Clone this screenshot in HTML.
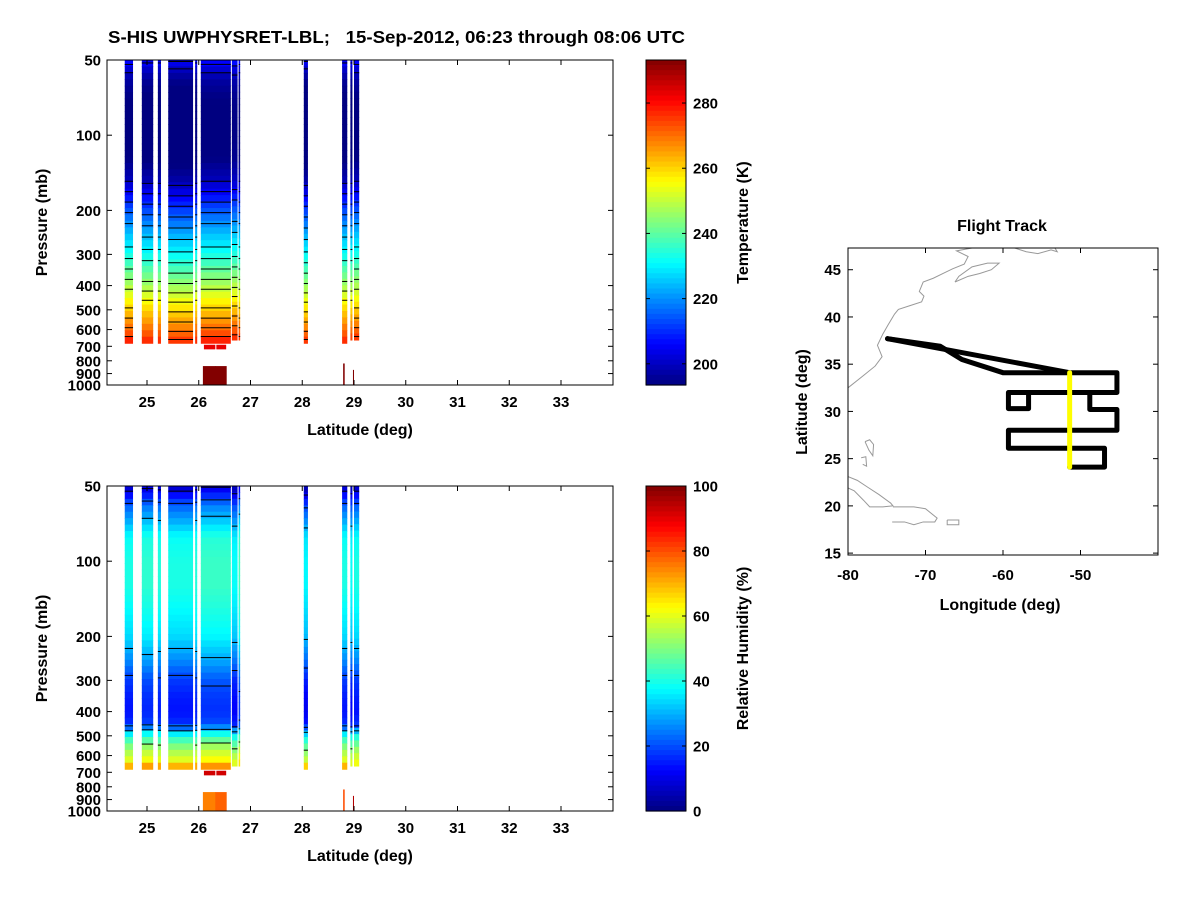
<!DOCTYPE html>
<html><head><meta charset="utf-8"><style>
body{margin:0;background:#fff;}
svg{display:block;font-family:"Liberation Sans",Arial,sans-serif;font-weight:bold;}
#ttl{white-space:pre;}
</style></head><body>
<svg id="fig" width="1200" height="900" viewBox="0 0 1200 900">
<text id="ttl" x="108" y="43" font-size="17.5" textLength="577" lengthAdjust="spacingAndGlyphs" xml:space="preserve">S-HIS UWPHYSRET-LBL;   15-Sep-2012, 06:23 through 08:06 UTC</text>
</svg>
<script>
// ---------- data ----------
const segStart = [24.57,24.90,25.21,25.41,25.93,26.04,26.64,26.77,28.03,28.77,28.93,29.00];
const segEnd   = [24.73,25.12,25.27,25.89,25.97,26.62,26.75,26.80,28.11,28.87,28.97,29.10];
const segBottomP = [680,680,680,680,680,680,660,660,680,680,660,660];
const segOffsetT = [1,0,0,-1,0,1,2,1,-1,0,0,1];
const segOffsetRH = [0,2,1,0,1,3,-2,4,-3,0,-2,0];
const presLevels = [50,55,60,70,80,100,125,150,200,250,300,350,400,450,500,550,600,650,680];
const tempProfile = [207,200,196,193,192,192,193,198,213,224,232,240,247,254,260,265,270,275,279];
const rhProfile   = [6,14,22,30,38,40,40,38,34,26,18,15,14,17,40,50,57,62,85];
const tempContours = [200,205,210,215,220,225,230,235,240,245,250,255,260,265,270,275];
const rhContours = [10,20,30,50];
const tTicks = [200,220,240,260,280];
const rhTicks = [0,20,40,60,80,100];
const latTicks = [25,26,27,28,29,30,31,32,33];
const presTicks = [50,100,200,300,400,500,600,700,800,900,1000];
// surface blobs
const blobLatStart = [26.10,26.34,26.08,26.32,28.79,28.98];
const blobLatEnd   = [26.32,26.53,26.33,26.54,28.82,29.00];
const blobPTop     = [690,690,840,840,820,870];
const blobPBot     = [720,720,1000,1000,1000,1000];
const blobT        = [283,283,293,293,293,293];
const blobRH       = [92,92,75,78,80,95];
// flight track
const trackUpperLon = [-74.9,-51.4];
const trackUpperLat = [37.7,34.1];
const trackLoopLon = [-74.9,-68.1,-65.3,-60,-45.3,-45.3,-48.8,-48.8,-45.3,-45.3,-59.3,-59.3,-46.9,-46.9,-51.4];
const trackLoopLat = [37.7,36.9,35.5,34.1,34.1,32.0,32.0,30.2,30.2,28.0,28.0,26.1,26.1,24.1,24.1];
const trackBoxLon = [-48.8,-59.3,-59.3,-56.7,-56.7];
const trackBoxLat = [32.0,32.0,30.3,30.3,32.0];
const legLon = [-51.4,-51.4];
const legLat = [24.1,34.1];
const coastUSLon = [-80,-78,-76.5,-75.6,-76.2,-75.5,-74.8,-74,-73.5,-72,-70.5,-70.2,-70.8,-70.3,-69,-67.5,-66.5,-65,-64.5,-66,-64];
const coastUSLat = [32.5,33.8,34.8,35.8,37,38.2,39.2,40.3,40.8,41.2,41.6,42.2,42.7,43.7,44.1,44.7,45.1,45.6,46.4,47.0,47.3];
const coastNSLon = [-66.2,-64.5,-63,-61.5,-60.5,-62,-64,-65.7,-66.2];
const coastNSLat = [43.7,44.3,44.6,45,45.7,45.7,45.3,44.3,43.7];
const coastNFLon = [-58.5,-57,-55.5,-53.8,-53,-53.3,-55,-56.6];
const coastNFLat = [47.3,46.9,46.7,47.1,46.9,47.3,47.3,47.3];
const coastCubaLon = [-80,-78.8,-77.5,-76,-74.5,-74.2,-75.5,-77.2,-78,-79.2,-80];
const coastCubaLat = [23.1,22.7,22.0,21.2,20.3,20.0,19.9,19.9,20.6,21.6,21.9];
const coastHispLon = [-74.2,-72.8,-71.5,-70,-68.5,-68.8,-70.3,-71.5,-72.7,-74.3];
const coastHispLat = [19.9,19.9,19.9,19.7,18.7,18.3,18.3,18.0,18.3,18.3];
const coastPRLon = [-67.2,-65.7,-65.7,-67.2,-67.2];
const coastPRLat = [18.5,18.5,18.0,18.0,18.5];
const coastBahLon = [-77.8,-77.2,-76.7,-76.8,-77.3,-77.8];
const coastBahLat = [26.8,27.0,26.5,25.3,25.9,26.8];
const coastBah2Lon = [-78.3,-77.7,-77.6,-78.1];
const coastBah2Lat = [25.1,25.2,24.2,24.4];
const mapXTicks = [-80,-70,-60,-50];
const mapYTicks = [15,20,25,30,35,40,45];

// ---------- helpers ----------
const NS='http://www.w3.org/2000/svg';
const svg=document.getElementById('fig');
function mk(tag,attrs,parent){const e=document.createElementNS(NS,tag);for(const k in attrs)e.setAttribute(k,attrs[k]);(parent||svg).appendChild(e);return e;}
function jet(t){t=Math.max(0,Math.min(1,t));const c=v=>Math.round(255*Math.max(0,Math.min(1,v)));
 return `rgb(${c(1.5-Math.abs(4*t-3))},${c(1.5-Math.abs(4*t-2))},${c(1.5-Math.abs(4*t-1))})`;}
function interpLog(p,levels,vals){
 if(p<=levels[0])return vals[0];
 for(let i=0;i<levels.length-1;i++){if(p<=levels[i+1]){const f=(Math.log(p)-Math.log(levels[i]))/(Math.log(levels[i+1])-Math.log(levels[i]));return vals[i]+f*(vals[i+1]-vals[i]);}}
 return vals[vals.length-1];}

function panel(y0,profile,offsets,cmin,cmax,contours,blobVals,cbTicks,cbLabel,nameP){
 const x0=107,x1=613,y1=y0+325;
 const px=lat=>147+(lat-25)*51.75;
 const py=p=>y0+Math.log10(p/50)*249.8;
 const g=mk('g',{});
 
 
 for(let s=0;s<segStart.length;s++){
  const xa=px(segStart[s]),xb=px(segEnd[s]);
  const col=mk('g',{},g);
  
  
  const N=44;
  for(let k=0;k<N;k++){
   const pa=50*Math.pow(segBottomP[s]/50,k/N),pb=50*Math.pow(segBottomP[s]/50,(k+1)/N);
   const v=interpLog(Math.sqrt(pa*pb),presLevels,profile)+offsets[s];
   mk('rect',{x:xa,y:py(pa),width:xb-xa,height:py(pb)-py(pa)+0.6,fill:jet((v-cmin)/(cmax-cmin))},col);
  }
  for(const L of contours){
   for(let i=0;i<presLevels.length-1;i++){
    if(presLevels[i+1]>segBottomP[s])break;
    const a=profile[i]+offsets[s],b=profile[i+1]+offsets[s];
    if((a-L)*(b-L)<0){
     const f=(L-a)/(b-a);
     const p=Math.exp(Math.log(presLevels[i])+f*(Math.log(presLevels[i+1])-Math.log(presLevels[i])));
     const ln=mk('line',{x1:xa,x2:xb,y1:py(p),y2:py(p),stroke:'#000','stroke-width':1},col);
     
     
    }
   }
  }
 }
 for(let b=0;b<blobLatStart.length;b++){
  const r=mk('rect',{x:px(blobLatStart[b]),y:py(blobPTop[b]),width:px(blobLatEnd[b])-px(blobLatStart[b]),height:py(blobPBot[b])-py(blobPTop[b]),fill:jet((blobVals[b]-cmin)/(cmax-cmin))},g);
  
  
 }
 const box=mk('rect',{x:x0,y:y0,width:x1-x0,height:y1-y0,fill:'none',stroke:'#000','stroke-width':1},g);
 
 
 for(const t of latTicks){const x=px(t);
  mk('line',{x1:x,x2:x,y1:y1,y2:y1-5,stroke:'#000'},g);mk('line',{x1:x,x2:x,y1:y0,y2:y0+5,stroke:'#000'},g);
  const tx=mk('text',{x:x,y:y1+22,'font-size':15,'text-anchor':'middle'},g);tx.textContent=t;
  
  }
 for(const t of presTicks){const y=py(t);
  mk('line',{x1:x0,x2:x0+5,y1:y,y2:y,stroke:'#000'},g);mk('line',{x1:x1,x2:x1-5,y1:y,y2:y,stroke:'#000'},g);
  const tx=mk('text',{x:x0-6,y:y+5.5,'font-size':15,'text-anchor':'end'},g);tx.textContent=t;
  
  }
 const xl=mk('text',{x:360,y:y1+50,'font-size':16,'text-anchor':'middle'},g);xl.textContent='Latitude (deg)';
 
 
 const yl=mk('text',{x:0,y:0,'font-size':16,'text-anchor':'middle',transform:`translate(47,${(y0+y1)/2}) rotate(-90)`},g);yl.textContent='Pressure (mb)';
 
 
 const cx0=646,cx1=686;
 const cb=mk('g',{},g);
 
 
 const M=64;
 for(let k=0;k<M;k++){mk('rect',{x:cx0,y:y0+(y1-y0)*k/M,width:cx1-cx0,height:(y1-y0)/M+0.6,fill:jet(1-(k+0.5)/M)},cb);}
 mk('rect',{x:cx0,y:y0,width:cx1-cx0,height:y1-y0,fill:'none',stroke:'#000'},cb);
 const cy=v=>y1-(v-cmin)/(cmax-cmin)*(y1-y0);
 for(const t of cbTicks){const y=cy(t);
  mk('line',{x1:cx0,x2:cx0+4,y1:y,y2:y,stroke:'#000'},cb);mk('line',{x1:cx1,x2:cx1-4,y1:y,y2:y,stroke:'#000'},cb);
  const tx=mk('text',{x:cx1+7,y:y+5.5,'font-size':15},cb);tx.textContent=t;
  
  }
 const cl=mk('text',{x:0,y:0,'font-size':16,'text-anchor':'middle',transform:`translate(748,${(y0+y1)/2}) rotate(-90)`},cb);cl.textContent=cbLabel;
 
 
}
panel(60,tempProfile,segOffsetT,193.5,293.2,tempContours,blobT,tTicks,'Temperature (K)','temperature');
panel(486,rhProfile,segOffsetRH,0,100,rhContours,blobRH,rhTicks,'Relative Humidity (%)','humidity');

// ---------- map ----------
(function(){
 const x0=848,x1=1158,y0=248,y1=555;
 const mx=lon=>848+(lon+80)*7.75;
 const my=lat=>y1-(lat-14.8)*(y1-y0)/(47.3-14.8);
 const g=mk('g',{});
 
 
 const cp=mk('clipPath',{id:'mapclip'},g);mk('rect',{x:x0,y:y0,width:x1-x0,height:y1-y0},cp);
 const inner=mk('g',{'clip-path':'url(#mapclip)'},g);
 const pts=(lo,la)=>lo.map((v,i)=>mx(v)+','+my(la[i])).join(' ');
 const coasts=[[coastUSLon,coastUSLat],[coastNSLon,coastNSLat],[coastNFLon,coastNFLat],[coastCubaLon,coastCubaLat],[coastHispLon,coastHispLat],[coastPRLon,coastPRLat],[coastBahLon,coastBahLat],[coastBah2Lon,coastBah2Lat]];
 for(const c of coasts){const l=mk('polyline',{points:pts(c[0],c[1]),fill:'none',stroke:'#999','stroke-width':1},inner);
  
  }
 for(const t of [[trackUpperLon,trackUpperLat],[trackLoopLon,trackLoopLat],[trackBoxLon,trackBoxLat]]){
  const l=mk('polyline',{points:pts(t[0],t[1]),fill:'none',stroke:'#000','stroke-width':5,'stroke-linejoin':'round','stroke-linecap':'round'},inner);
  
  }
 const yl=mk('polyline',{points:pts(legLon,legLat),fill:'none',stroke:'#ffff00','stroke-width':5,'stroke-linecap':'round'},inner);
 
 
 mk('rect',{x:x0,y:y0,width:x1-x0,height:y1-y0,fill:'none',stroke:'#000'},g);
 for(const t of mapXTicks){const x=mx(t);
  mk('line',{x1:x,x2:x,y1:y1,y2:y1-5,stroke:'#000'},g);mk('line',{x1:x,x2:x,y1:y0,y2:y0+5,stroke:'#000'},g);
  const tx=mk('text',{x:x,y:y1+25,'font-size':15,'text-anchor':'middle'},g);tx.textContent=t;
  
  }
 for(const t of mapYTicks){const y=my(t);
  mk('line',{x1:x0,x2:x0+5,y1:y,y2:y,stroke:'#000'},g);mk('line',{x1:x1,x2:x1-5,y1:y,y2:y,stroke:'#000'},g);
  const tx=mk('text',{x:x0-7,y:y+5.5,'font-size':15,'text-anchor':'end'},g);tx.textContent=t;
  
  }
 const ti=mk('text',{x:1002,y:231,'font-size':16,'text-anchor':'middle'},g);ti.textContent='Flight Track';
 
 
 const xl=mk('text',{x:1000,y:610,'font-size':16,'text-anchor':'middle'},g);xl.textContent='Longitude (deg)';
 
 
 const ylb=mk('text',{x:0,y:0,'font-size':16,'text-anchor':'middle',transform:`translate(807,402) rotate(-90)`},g);ylb.textContent='Latitude (deg)';
 
 
})();
</script>
</body></html>
